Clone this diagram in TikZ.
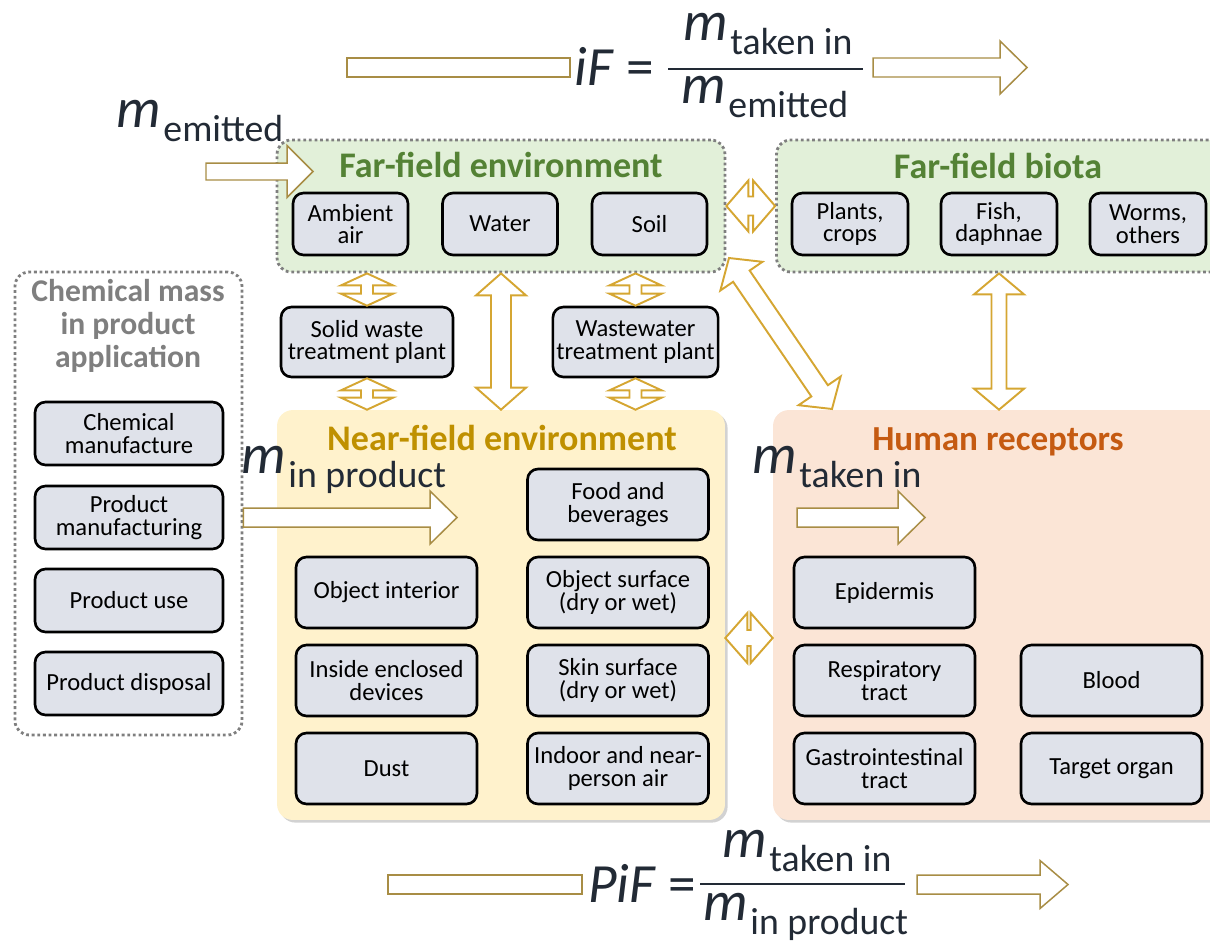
\documentclass[tikz,border=0pt]{standalone}
\usepackage{fontspec}
\setmainfont{Carlito}
\usetikzlibrary{calc,shadows}

\definecolor{itemfill}{HTML}{DFE2EA}
\definecolor{zonegray}{HTML}{7F7F7F}
\definecolor{farfill}{HTML}{E2F0D9}
\definecolor{fargreen}{HTML}{548235}
\definecolor{nearfill}{HTML}{FFF2CC}
\definecolor{neargold}{HTML}{BF9000}
\definecolor{humfill}{HTML}{FBE5D6}
\definecolor{humorange}{HTML}{C55A11}
\definecolor{arrowgold}{HTML}{D5A632}
\definecolor{flowolive}{HTML}{A88D45}
\definecolor{inkblue}{HTML}{222A35}

\tikzset{
  zone/.style={draw=zonegray, line width=1.6pt, dash pattern=on 1.6pt off 1.6pt, rounded corners=8pt},
  field/.style={rounded corners=9pt, drop shadow={shadow xshift=1.5pt, shadow yshift=-1.5pt, fill=black!35}},
  item/.style={draw=black, line width=1.5pt, rounded corners=6pt, fill=itemfill, align=center,
    inner sep=2pt, font=\fontsize{14}{13}\selectfont},
  title/.style={font=\bfseries\fontsize{20.5}{24}\selectfont, inner sep=0pt},
  formula/.style={inner sep=0pt, text=inkblue, font=\fontsize{31.5}{31.5}\selectfont},
  exchange/.style={draw=arrowgold, line width=1.1pt, fill=white, line join=miter},
  flow/.style={draw=flowolive, line width=0.85pt, fill=white, line join=miter}
}

\newcommand\mass[1]{{\fontsize{32}{32}\selectfont\itshape m}\kern1.5pt\raisebox{-8pt}{\fontsize{21.5}{21.5}\selectfont #1}}

% double block arrow: from, to, body half, head half, head length
\newcommand\dblarr[5]{%
  \path ($(#1)!#5!(#2)$) coordinate (da1) ($(#2)!#5!(#1)$) coordinate (da2);
  \draw[exchange] (#1) -- ($(da1)!#4!90:(#2)$) -- ($(da1)!#3!90:(#2)$)
    -- ($(da2)!#3!-90:(#1)$) -- ($(da2)!#4!-90:(#1)$) -- (#2)
    -- ($(da2)!#4!90:(#1)$) -- ($(da2)!#3!90:(#1)$)
    -- ($(da1)!#3!-90:(#2)$) -- ($(da1)!#4!-90:(#2)$) -- cycle;}

% single block arrow: from, to, body half, head half, head length
\newcommand\sglarr[5]{%
  \path ($(#2)!#5!(#1)$) coordinate (sa);
  \draw[flow] ($(#1)!#3!90:(#2)$) -- ($(sa)!#3!-90:(#1)$) -- ($(sa)!#4!-90:(#1)$) -- (#2)
    -- ($(sa)!#4!90:(#1)$) -- ($(sa)!#3!90:(#1)$) -- ($(#1)!#3!-90:(#2)$) -- cycle;}

\begin{document}
\begin{tikzpicture}[x=0.02cm, y=-0.02cm]
	\clip (0,0) rectangle (1210,943);
	
	% Zones
	\node[zone, fill=farfill, minimum width=8.96cm, minimum height=2.64cm] (farenv) at (501,206) {};
	\node[zone, fill=farfill, minimum width=9.26cm, minimum height=2.64cm] (farbio) at (1008,206) {};
	\node[zone, minimum width=4.54cm, minimum height=9.26cm] (chem) at (128.5,503.5) {};
	\node[field, fill=nearfill, minimum width=8.96cm, minimum height=8.2cm] (near) at (501,615) {};
	\node[field, fill=humfill, minimum width=9.34cm, minimum height=8.2cm] (human) at (1006.5,615) {};
	
	% Zone titles
	\node[title, text=fargreen, anchor=base] (farenvT) at (501,177) {Far-field environment};
	\node[title, text=fargreen, anchor=base] (farbioT) at (998,178) {Far-field biota};
	\node[title, text=neargold, anchor=base] (nearT) at (502,450) {Near-field environment};
	\node[title, text=humorange, anchor=base, font=\bfseries\fontsize{20}{24}\selectfont] (humanT) at (998,450) {Human receptors};
	\node[title, text=zonegray, align=center, font=\bfseries\fontsize{18}{18.8}\selectfont] (chemT) at (128,326) {Chemical mass\\in product\\application};
	
	% Far-field items
	\node[item, minimum width=2.3cm, minimum height=1.24cm] (air) at (350.5,224) {Ambient\\air};
	\node[item, minimum width=2.3cm, minimum height=1.24cm] (water) at (500,224) {Water};
	\node[item, minimum width=2.3cm, minimum height=1.24cm] (soil) at (649.5,224) {Soil};
	\node[item, minimum width=2.32cm, minimum height=1.24cm] (plants) at (850,224) {Plants,\\crops};
	\node[item, minimum width=2.32cm, minimum height=1.24cm] (fish) at (999,224) {Fish,\\daphnae};
	\node[item, minimum width=2.32cm, minimum height=1.24cm] (worms) at (1148,224) {Worms,\\others};
	
	% Product life cycle
	\node[item, minimum width=3.76cm, minimum height=1.26cm] (chemmanu) at (129,433.5) {Chemical\\manufacture};
	\node[item, minimum width=3.76cm, minimum height=1.26cm] (prodmanu) at (129,517.5) {Product\\manufacturing};
	\node[item, minimum width=3.76cm, minimum height=1.26cm] (produse) at (129,600.5) {Product use};
	\node[item, minimum width=3.76cm, minimum height=1.26cm] (proddisp) at (129,683.5) {Product disposal};
	
	% Treatment plants
	\node[item, minimum width=3.44cm, minimum height=1.4cm] (solid) at (367,342) {Solid waste\\treatment plant};
	\node[item, minimum width=3.3cm, minimum height=1.4cm] (waste) at (635.5,342) {Wastewater\\treatment plant};
	
	% Near-field items
	\node[item, minimum width=3.62cm, minimum height=1.42cm] (food) at (618,504.5) {Food and\\beverages};
	\node[item, minimum width=3.62cm, minimum height=1.42cm] (objint) at (386.5,592.5) {Object interior};
	\node[item, minimum width=3.62cm, minimum height=1.42cm] (objsurf) at (618,592.5) {Object surface\\(dry or wet)};
	\node[item, minimum width=3.62cm, minimum height=1.42cm] (inside) at (386.5,680.5) {Inside enclosed\\devices};
	\node[item, minimum width=3.62cm, minimum height=1.42cm] (skin) at (618,680.5) {Skin surface\\(dry or wet)};
	\node[item, minimum width=3.62cm, minimum height=1.42cm] (dust) at (386.5,768.5) {Dust};
	\node[item, minimum width=3.62cm, minimum height=1.42cm] (indoor) at (618,768.5) {Indoor and near-\\person air};
	
	% Human items
	\node[item, minimum width=3.62cm, minimum height=1.42cm] (epid) at (884.5,592.5) {Epidermis};
	\node[item, minimum width=3.62cm, minimum height=1.42cm] (resp) at (884.5,680.5) {Respiratory\\tract};
	\node[item, minimum width=3.62cm, minimum height=1.42cm] (gastro) at (884.5,768.5) {Gastrointestinal\\tract};
	\node[item, minimum width=3.62cm, minimum height=1.42cm] (blood) at (1111.5,680.5) {Blood};
	\node[item, minimum width=3.62cm, minimum height=1.42cm] (target) at (1111.5,768.5) {Target organ};
	
	% Exchanges
	\coordinate (sw1) at (solid.north |- farenv.south);
	\coordinate (sw2) at (solid.south |- near.north);
	\coordinate (ww1) at (waste.north |- farenv.south);
	\coordinate (ww2) at (waste.south |- near.north);
	\coordinate (dgA) at (729,258);
	\coordinate (dgB) at (832,409);
	\coordinate (fb1) at (fish.south |- farbio.south);
	\coordinate (fb2) at (fish.south |- human.north);
	\coordinate (nh1) at ($(near.east)+(0,23)$);
	\coordinate (nh2) at ($(human.west)+(0,23)$);
	\dblarr{farenv.east}{farbio.west}{0.19cm}{0.51cm}{0.44cm}
	\dblarr{solid.north}{sw1}{0.12cm}{0.52cm}{0.24cm}
	\dblarr{solid.south}{sw2}{0.12cm}{0.52cm}{0.24cm}
	\dblarr{waste.north}{ww1}{0.12cm}{0.52cm}{0.24cm}
	\dblarr{waste.south}{ww2}{0.12cm}{0.52cm}{0.24cm}
	\dblarr{farenv.south}{near.north}{0.2cm}{0.5cm}{0.44cm}
	\dblarr{dgA}{dgB}{0.2cm}{0.51cm}{0.44cm}
	\dblarr{fb1}{fb2}{0.15cm}{0.5cm}{0.42cm}
	\dblarr{nh1}{nh2}{0.16cm}{0.5cm}{0.44cm}
	
	% Mass labels and inflows
	\node[formula, anchor=base west] (memit) at (116,127) {\mass{emitted}};
	\node[formula, anchor=base west] (mprod) at (241,473) {\mass{in product}};
	\node[formula, anchor=base west] (mtaken) at (752,473) {\mass{taken in}};
	\coordinate (emitA) at (206,171.5);
	\coordinate (emitB) at (313,171.5);
	\coordinate (pmA) at (chem.east |- prodmanu);
	\coordinate (pmB) at (457,517.5);
	\coordinate (tkA) at (797,517.5);
	\coordinate (tkB) at (925,517.5);
	\sglarr{emitA}{emitB}{0.17cm}{0.52cm}{0.52cm}
	\sglarr{pmA}{pmB}{0.19cm}{0.53cm}{0.54cm}
	\sglarr{tkA}{tkB}{0.19cm}{0.53cm}{0.54cm}
	
	% Intake fraction
	\draw[flow] (347,58) rectangle (570,77);
	\node[formula, anchor=base west] (iFlab) at (574,85) {\textit{iF} =};
	\node[formula, anchor=base west] (iFnum) at (683,40) {\mass{taken in}};
	\node[formula, anchor=base west] (iFden) at (681,103) {\mass{emitted}};
	\draw[inkblue, line width=0.8pt] (668,69) -- (863,69);
	\coordinate (iFtail) at (873,67.5);
	\coordinate (iFtip) at (1027,67.5);
	\sglarr{iFtail}{iFtip}{0.19cm}{0.53cm}{0.54cm}
	
	% Product intake fraction
	\draw[flow] (388,875) rectangle (582,894);
	\node[formula, anchor=base west] (PiFlab) at (588,902) {\textit{PiF} =};
	\node[formula, anchor=base west] (PiFnum) at (722,857) {\mass{taken in}};
	\node[formula, anchor=base west] (PiFden) at (703,920) {\mass{in product}};
	\draw[inkblue, line width=0.8pt] (700,884) -- (905,884);
	\coordinate (PiFtail) at (917,884.5);
	\coordinate (PiFtip) at (1068,884.5);
	\sglarr{PiFtail}{PiFtip}{0.19cm}{0.48cm}{0.56cm}
\end{tikzpicture}
\end{document}
